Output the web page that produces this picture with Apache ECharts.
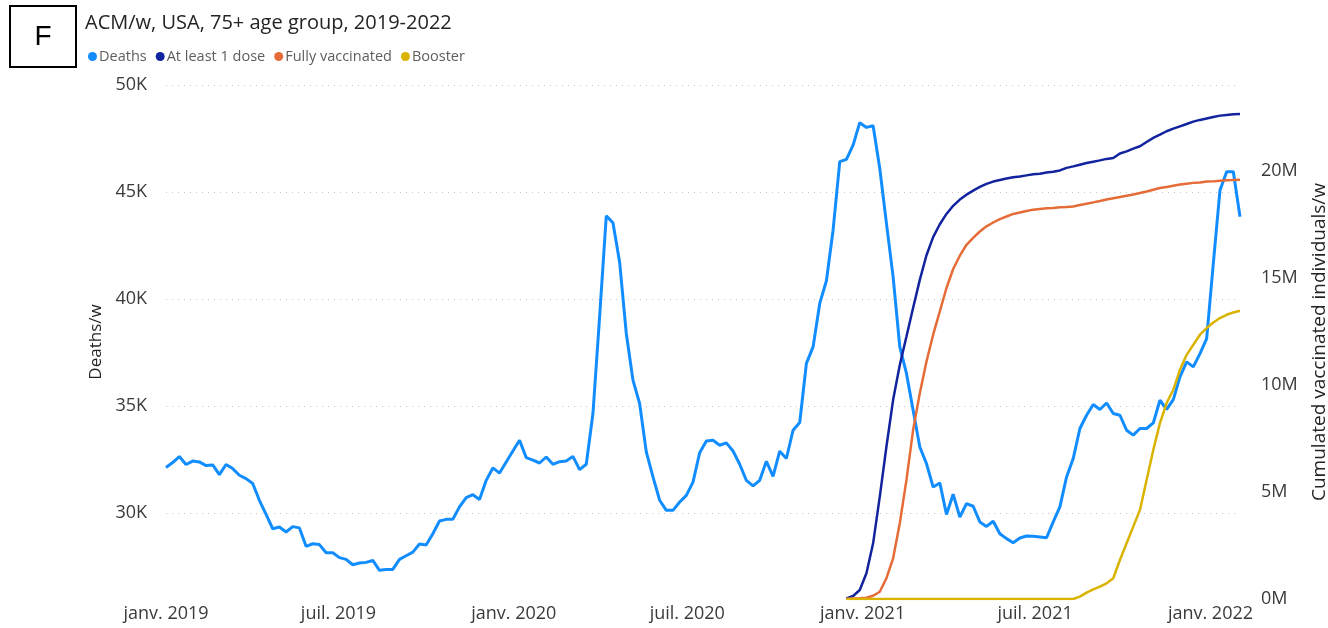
<!DOCTYPE html>
<html>
<head>
<meta charset="utf-8">
<script src="https://cdn.jsdelivr.net/npm/echarts@6/dist/echarts.min.js"></script>
<style>
  html, body { margin: 0; padding: 0; background: #fff; }
  #chart { width: 1328px; height: 628px; }
</style>
</head>
<body>
<div id="chart"></div>
<script>
// ---- Data ----
const firstWeek = '2019-01-01';   // first weekly observation
const weekCount = 162;            // number of weekly observations

const deaths = [
  32140, 32370, 32650, 32280, 32440, 32400, 32230, 32260, 31810, 32280, 32090, 31780, 31620, 31390, 30610, 29950, 29280, 29360, 29130, 29380, 29320, 28460, 28580, 28540, 28160, 28160, 27930,
  27850, 27600, 27680, 27710, 27800, 27340, 27380, 27380, 27850, 28020, 28190, 28570, 28520, 29050, 29640, 29720, 29720, 30300, 30730, 30870, 30650, 31540, 32120, 31880, 32400, 32910, 33410,
  32600, 32480, 32350, 32630, 32290, 32410, 32440, 32660, 32040, 32290, 34660, 39170, 43890, 43570, 41740, 38400, 36220, 35130, 32870, 31700, 30610, 30140, 30140, 30530, 30840, 31460, 32830,
  33380, 33410, 33180, 33290, 32910, 32290, 31540, 31280, 31540, 32430, 31730, 32900, 32560, 33880, 34240, 37000, 37770, 39800, 40860, 43220, 46420, 46530, 47190, 48240, 48020,
  48100, 46100, 43540, 41040, 37770, 36530, 34810, 33100, 32320, 31230, 31420, 29950, 30890, 29830, 30450, 30330, 29600, 29390, 29630, 29050, 28820, 28630, 28850, 28940, 28930, 28900, 28860, 29600, 30300,
  31700, 32560, 33960, 34580, 35080, 34850, 35150, 34660, 34580, 33880, 33650, 33960, 33960, 34220, 35280, 34850, 35310, 36370, 37070, 36840, 37460, 38160, 41670, 45090, 45950, 45950, 43850
];

// Vaccination series (millions), starting at week index vaccStart
const vaccStart = 102;
const atLeast1Dose = [
  0.03, 0.14, 0.42, 1.2, 2.6, 4.78, 7.12, 9.3, 10.93, 12.26, 13.6, 14.9, 16.05, 16.9, 17.5, 17.98, 18.36, 18.65, 18.88, 19.07,
  19.24, 19.38, 19.49, 19.56, 19.63, 19.69, 19.73, 19.78, 19.83, 19.86, 19.91, 19.95, 20.01,
  20.13, 20.2, 20.28, 20.36, 20.42, 20.48, 20.55, 20.59, 20.8, 20.9, 21.03, 21.14, 21.34, 21.53, 21.68, 21.84, 21.96, 22.07,
  22.18, 22.29, 22.37, 22.44, 22.51, 22.57, 22.6, 22.63, 22.65
];
const fullyVaccinated = [
  0, 0.02, 0.03, 0.06, 0.15, 0.34, 0.97, 1.9, 3.54, 5.56, 7.9, 9.61, 11.09, 12.34, 13.43, 14.52, 15.41, 16.03, 16.54, 16.86,
  17.16, 17.4, 17.58, 17.74, 17.86, 17.98, 18.05, 18.12, 18.18, 18.21, 18.24, 18.26, 18.29,
  18.3, 18.33, 18.4, 18.46, 18.52, 18.58, 18.65, 18.71, 18.77, 18.83, 18.89, 18.96, 19.03, 19.11, 19.19, 19.24, 19.3, 19.35,
  19.39, 19.43, 19.45, 19.49, 19.5, 19.53, 19.55, 19.56, 19.58
];
const booster = [
  0, 0, 0, 0, 0, 0, 0, 0, 0, 0, 0, 0, 0, 0, 0, 0, 0, 0, 0, 0,
  0, 0, 0, 0, 0, 0, 0, 0, 0, 0, 0, 0, 0,
  0, 0, 0.11, 0.3, 0.45, 0.58, 0.73, 0.97, 1.82, 2.6, 3.38, 4.16, 5.56, 6.96, 8.21, 9.15, 9.77, 10.7,
  11.4, 11.87, 12.34, 12.65, 12.91, 13.12, 13.27, 13.38, 13.46
];

const xTickDates = ['2019-01-01', '2019-07-01', '2020-01-01', '2020-07-01', '2021-01-01', '2021-07-01', '2022-01-01'];
const xTickLabels = ['janv. 2019', 'juil. 2019', 'janv. 2020', 'juil. 2020', 'janv. 2021', 'juil. 2021', 'janv. 2022'];
const leftTicks = [30000, 35000, 40000, 45000, 50000];
const rightTicks = [0, 5, 10, 15, 20];

const seriesNames = ['Deaths', 'At least 1 dose', 'Fully vaccinated', 'Booster'];
const seriesColors = ['#118DFF', '#12239E', '#E66C37', '#D9B300'];

// ---- Build ----
const DAY = 86400000;
function ts(s) { const p = s.split('-').map(Number); return Date.UTC(p[0], p[1] - 1, p[2]); }
const t0 = ts(firstWeek);
const weeks = [];
for (let i = 0; i < weekCount; i++) weeks.push(t0 + i * 7 * DAY);

const deathsData = deaths.map((v, i) => [weeks[i], v]);
const vacc = arr => arr.map((v, i) => [weeks[vaccStart + i], v * 1e6]);

const xTickTs = xTickDates.map(ts);
const labelFor = {};
xTickTs.forEach((t, i) => { labelFor[t] = xTickLabels[i]; });

const FONT = '"Segoe UI", "Open Sans", sans-serif';
const axisLabelColor = '#3B3A39';

const chart = echarts.init(document.getElementById('chart'), null, { renderer: 'canvas' });
chart.setOption({
  animation: false,
  backgroundColor: '#ffffff',
  title: {
    text: 'ACM/w, USA, 75+ age group, 2019-2022',
    left: 80, top: 8,
    textStyle: { fontFamily: FONT, fontSize: 20, fontWeight: 'normal', color: '#252423' }
  },
  legend: {
    data: seriesNames,
    left: 83, top: 44,
    icon: 'circle', itemWidth: 9, itemHeight: 9, itemGap: 9,
    textStyle: { fontFamily: FONT, fontSize: 14.5, color: '#605E5C', padding: [0, 0, 0, -3] }
  },
  graphic: [
    { type: 'rect', shape: { x: 10, y: 6, width: 66, height: 61 },
      style: { fill: '#fff', stroke: '#000', lineWidth: 2 } },
    { type: 'text', x: 43, y: 37,
      style: { text: 'F', fontFamily: '"Liberation Sans", Arial, sans-serif', fontSize: 28, fill: '#000', align: 'center', verticalAlign: 'middle' } }
  ],
  grid: { left: 166, right: 88, top: 85, bottom: 29, outerBoundsMode: 'none', containLabel: false },
  xAxis: {
    type: 'value',
    min: weeks[0], max: weeks[weeks.length - 1],
    axisLine: { show: false },
    axisTick: { show: false },
    splitLine: { show: false },
    axisLabel: {
      customValues: xTickTs,
      showMinLabel: true, showMaxLabel: true,
      hideOverlap: false,
      formatter: v => labelFor[v] || '',
      margin: 6,
      fontFamily: FONT, fontSize: 18, color: axisLabelColor
    }
  },
  yAxis: [
    {
      type: 'value', min: 26000, max: 50000, position: 'left',
      name: 'Deaths/w', nameLocation: 'middle', nameGap: 60,
      nameTextStyle: { fontFamily: FONT, fontSize: 17, color: '#252423' },
      axisLine: { show: false },
      axisTick: { show: false, customValues: leftTicks },
      axisLabel: { customValues: leftTicks, formatter: v => (v / 1000) + 'K', margin: 19,
                   fontFamily: FONT, fontSize: 18, color: axisLabelColor },
      splitLine: { show: true, lineStyle: { color: '#C8C6C4', width: 1, type: [1, 5] } }
    },
    {
      type: 'value', min: 0, max: 24e6, position: 'right',
      name: 'Cumulated vaccinated individuals/w', nameLocation: 'middle', nameGap: 70, nameRotate: 90,
      nameTextStyle: { fontFamily: FONT, fontSize: 19, color: '#252423' },
      axisLine: { show: false },
      axisTick: { show: false, customValues: rightTicks.map(v => v * 1e6) },
      axisLabel: { customValues: rightTicks.map(v => v * 1e6), formatter: v => (v / 1e6) + 'M', margin: 21,
                   fontFamily: FONT, fontSize: 18, color: axisLabelColor },
      splitLine: { show: false }
    }
  ],
  series: [
    { name: seriesNames[0], type: 'line', yAxisIndex: 0, data: deathsData, showSymbol: false,
      lineStyle: { width: 3, color: seriesColors[0] }, itemStyle: { color: seriesColors[0] } },
    { name: seriesNames[1], type: 'line', yAxisIndex: 1, data: vacc(atLeast1Dose), showSymbol: false,
      lineStyle: { width: 2.5, color: seriesColors[1] }, itemStyle: { color: seriesColors[1] } },
    { name: seriesNames[2], type: 'line', yAxisIndex: 1, data: vacc(fullyVaccinated), showSymbol: false,
      lineStyle: { width: 2.5, color: seriesColors[2] }, itemStyle: { color: seriesColors[2] } },
    { name: seriesNames[3], type: 'line', yAxisIndex: 1, data: vacc(booster), showSymbol: false,
      lineStyle: { width: 2.5, color: seriesColors[3] }, itemStyle: { color: seriesColors[3] } }
  ]
});
</script>
</body>
</html>
